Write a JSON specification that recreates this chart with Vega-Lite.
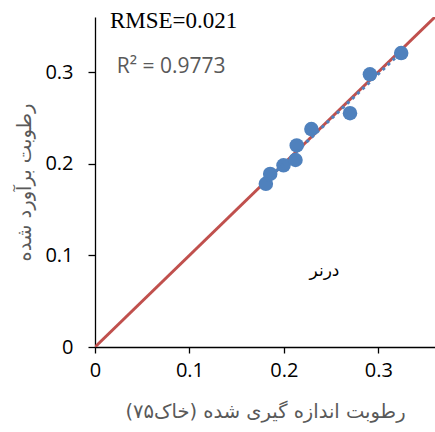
{
  "$schema": "https://vega.github.io/schema/vega-lite/v6.json",
  "autosize": {"type": "none"},
  "width": 340,
  "height": 330,
  "padding": {"left": 95, "top": 17, "right": 0, "bottom": 85},
  "background": "white",
  "config": {"view": {"stroke": null}},
  "datasets": {
    "pts": [
      {"measured": 0.1809, "estimated": 0.178},
      {"measured": 0.1855, "estimated": 0.1888},
      {"measured": 0.1996, "estimated": 0.1982},
      {"measured": 0.2123, "estimated": 0.204},
      {"measured": 0.2136, "estimated": 0.2199},
      {"measured": 0.2291, "estimated": 0.2377},
      {"measured": 0.270, "estimated": 0.2551},
      {"measured": 0.2911, "estimated": 0.2975},
      {"measured": 0.3242, "estimated": 0.3207}
    ],
    "oneToOne": [
      {"measured": 0, "estimated": 0},
      {"measured": 0.37, "estimated": 0.37}
    ],
    "labels": [
      {"measured": 0.0158, "estimated": 0.348, "text": "RMSE=0.021", "kind": "rmse"},
      {"measured": 0.023, "estimated": 0.299, "text": "R² = 0.9773", "kind": "r2"},
      {"measured": 0.243, "estimated": 0.083, "text": "درنر", "kind": "site"}
    ]
  },
  "layer": [
    {
      "data": {"name": "oneToOne"},
      "mark": {"type": "line", "color": "#C0504D", "strokeWidth": 3, "clip": true},
      "encoding": {
        "x": {
          "field": "measured", "type": "quantitative",
          "scale": {"domain": [0, 0.36], "nice": false},
          "axis": {
            "values": [0, 0.1, 0.2, 0.3], "format": "~g", "grid": false, "labelFlush": false,
            "domainColor": "black", "domainWidth": 1.3, "tickColor": "black", "tickWidth": 1.3, "tickSize": 6,
            "labelFont": "Open Sans", "labelFontSize": 20, "labelColor": "black", "labelPadding": 7,
            "title": "رطوبت اندازه گیری شده (خاک۷۵)", "titleFont": "DejaVu Sans", "titleFontSize": 19.5,
            "titleFontWeight": "normal", "titleColor": "#595959", "titlePadding": 22
          }
        },
        "y": {
          "field": "estimated", "type": "quantitative",
          "scale": {"domain": [0, 0.36], "nice": false},
          "axis": {
            "values": [0, 0.1, 0.2, 0.3], "format": "~g", "grid": false, "labelFlush": false,
            "domainColor": "black", "domainWidth": 1.3, "tickColor": "black", "tickWidth": 1.3, "tickSize": 7,
            "labelFont": "Open Sans", "labelFontSize": 20, "labelColor": "black", "labelPadding": 15,
            "title": "رطوبت برآورد شده", "titleFont": "DejaVu Sans", "titleFontSize": 19.5,
            "titleFontWeight": "normal", "titleColor": "#595959", "titlePadding": 10
          }
        }
      }
    },
    {
      "data": {"name": "pts"},
      "mark": {"type": "circle", "color": "#4F81BD", "opacity": 1, "size": 210},
      "encoding": {
        "x": {"field": "measured", "type": "quantitative"},
        "y": {"field": "estimated", "type": "quantitative"}
      }
    },
    {
      "data": {"name": "pts"},
      "transform": [{"regression": "estimated", "on": "measured"}],
      "mark": {"type": "line", "color": "#4F81BD", "strokeWidth": 3, "strokeDash": [3, 4]},
      "encoding": {
        "x": {"field": "measured", "type": "quantitative"},
        "y": {"field": "estimated", "type": "quantitative"}
      }
    },
    {
      "data": {"name": "labels"},
      "transform": [{"filter": "datum.kind === 'rmse'"}],
      "mark": {"type": "text", "align": "left", "baseline": "alphabetic", "font": "Liberation Serif", "fontSize": 23, "color": "black"},
      "encoding": {
        "x": {"field": "measured", "type": "quantitative"},
        "y": {"field": "estimated", "type": "quantitative"},
        "text": {"field": "text"}
      }
    },
    {
      "data": {"name": "labels"},
      "transform": [{"filter": "datum.kind === 'r2'"}],
      "mark": {"type": "text", "align": "left", "baseline": "alphabetic", "font": "Open Sans", "fontSize": 21, "color": "#595959"},
      "encoding": {
        "x": {"field": "measured", "type": "quantitative"},
        "y": {"field": "estimated", "type": "quantitative"},
        "text": {"field": "text"}
      }
    },
    {
      "data": {"name": "labels"},
      "transform": [{"filter": "datum.kind === 'site'"}],
      "mark": {"type": "text", "align": "center", "baseline": "middle", "font": "DejaVu Sans", "fontSize": 17, "color": "black"},
      "encoding": {
        "x": {"field": "measured", "type": "quantitative"},
        "y": {"field": "estimated", "type": "quantitative"},
        "text": {"field": "text"}
      }
    }
  ]
}
